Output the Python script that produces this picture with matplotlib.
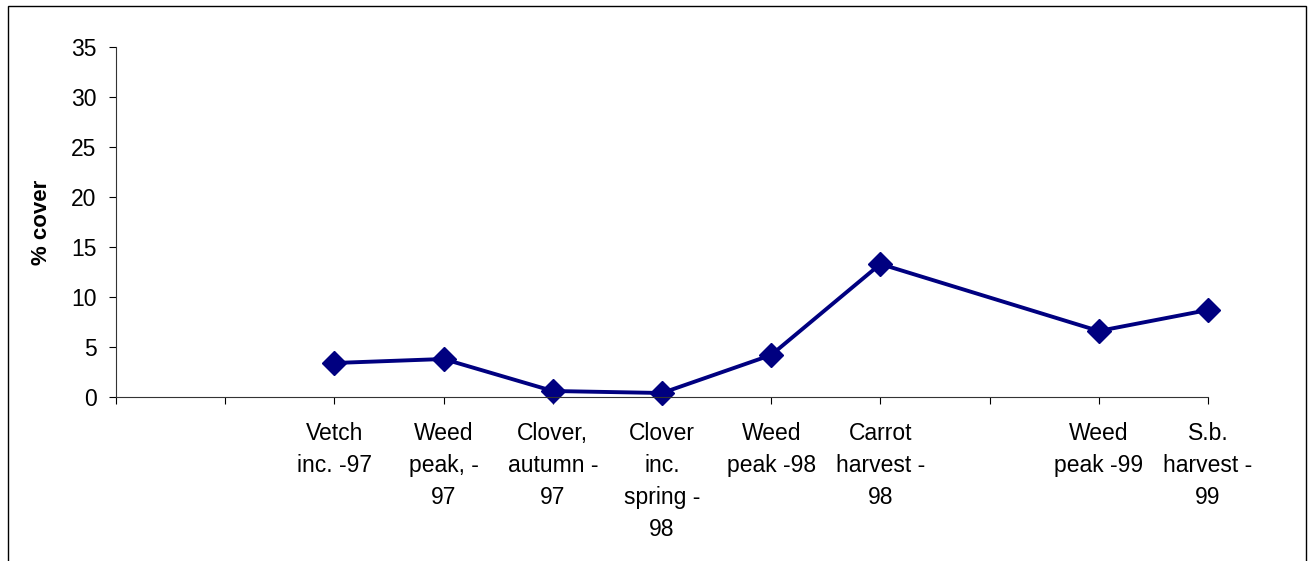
import matplotlib.pyplot as plt
from matplotlib.patches import Rectangle

plt.rcParams['font.family'] = ['Liberation Sans', 'DejaVu Sans']

# categories along the x axis (empty ones have no label)
labels = ['', '', 'Vetch\ninc. -97', 'Weed\npeak, -\n97', 'Clover,\nautumn -\n97',
          'Clover\ninc.\nspring -\n98', 'Weed\npeak -98', 'Carrot\nharvest -\n98',
          '', 'Weed\npeak -99', 'S.b.\nharvest -\n99']
point_idx = [2, 3, 4, 5, 6, 7, 9, 10]
cover = [3.4, 3.8, 0.6, 0.4, 4.2, 13.3, 6.6, 8.7]

fig = plt.figure(figsize=(13.1, 5.61), dpi=100)
ax = fig.add_axes([116 / 1310, 1 - 397 / 561, (1208 - 116) / 1310, 350 / 561])

ax.plot(point_idx, cover, color='#000080', linewidth=2.8, marker='D',
        markersize=12, clip_on=False)

ax.set_xlim(0, len(labels) - 1)
ax.set_ylim(0, 35)
ax.set_yticks(range(0, 36, 5))
ax.set_xticks(range(len(labels)))
ax.set_xticklabels(labels, linespacing=1.5, fontsize=16.5)
ax.tick_params(axis='y', labelsize=16.5, length=5, width=0.8, pad=9, direction='out')
ax.tick_params(axis='x', length=5, width=0.8, pad=13, direction='out')

for s in ['top', 'right']:
    ax.spines[s].set_visible(False)
for s in ['left', 'bottom']:
    ax.spines[s].set_linewidth(0.8)
    ax.spines[s].set_color('#333333')

ax.set_ylabel('% cover', fontsize=16, fontweight='bold', labelpad=14)

# outer chart border
fig.patches.append(Rectangle((8 / 1310, -0.1), 1298 / 1310, 1.1 - 6 / 561,
                             transform=fig.transFigure, fill=False,
                             edgecolor='black', linewidth=1))

fig.savefig('out.png', dpi=100)
